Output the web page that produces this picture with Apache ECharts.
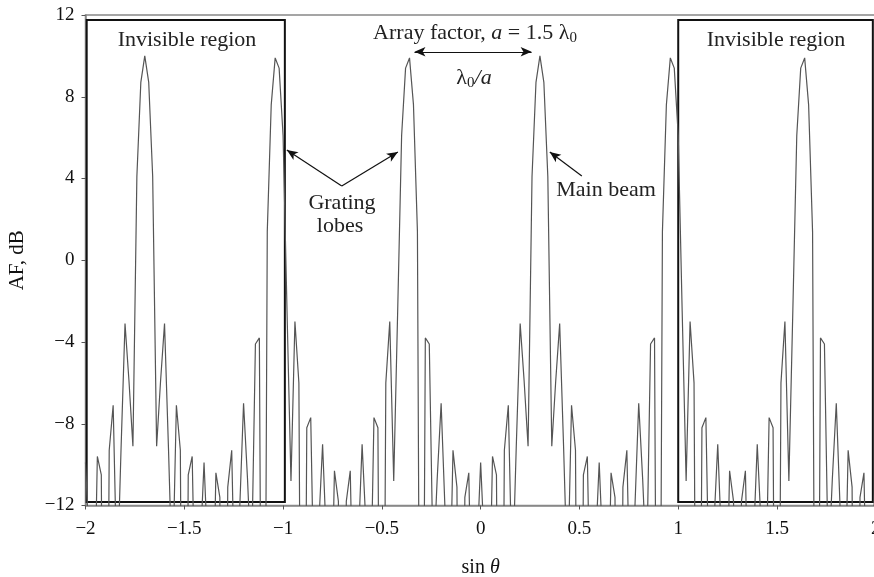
<!DOCTYPE html>
<html>
<head>
<meta charset="utf-8">
<script src="https://cdn.jsdelivr.net/npm/echarts@6/dist/echarts.min.js"></script>
<style>
html,body{margin:0;padding:0;background:#fff;}
#chart{width:874px;height:577px;}
</style>
</head>
<body>
<div id="chart"></div>
<script>
// sin(theta) sample positions
const sinTheta = [
-2, -1.98, -1.96, -1.94, -1.92, -1.9, -1.88, -1.86, -1.84, -1.82,
-1.8, -1.78, -1.76, -1.74, -1.72, -1.7, -1.68, -1.66, -1.64, -1.62,
-1.6, -1.58, -1.56, -1.54, -1.52, -1.5, -1.48, -1.46, -1.44, -1.42,
-1.4, -1.38, -1.36, -1.34, -1.32, -1.3, -1.28, -1.26, -1.24, -1.22,
-1.2, -1.18, -1.16, -1.14, -1.12, -1.1, -1.08, -1.06, -1.04, -1.02,
-1, -0.98, -0.96, -0.94, -0.92, -0.9, -0.88, -0.86, -0.84, -0.82,
-0.8, -0.78, -0.76, -0.74, -0.72, -0.7, -0.68, -0.66, -0.64, -0.62,
-0.6, -0.58, -0.56, -0.54, -0.52, -0.5, -0.48, -0.46, -0.44, -0.42,
-0.4, -0.38, -0.36, -0.34, -0.32, -0.3, -0.28, -0.26, -0.24, -0.22,
-0.2, -0.18, -0.16, -0.14, -0.12, -0.1, -0.08, -0.06, -0.04, -0.02,
0, 0.02, 0.04, 0.06, 0.08, 0.1, 0.12, 0.14, 0.16, 0.18,
0.2, 0.22, 0.24, 0.26, 0.28, 0.3, 0.32, 0.34, 0.36, 0.38,
0.4, 0.42, 0.44, 0.46, 0.48, 0.5, 0.52, 0.54, 0.56, 0.58,
0.6, 0.62, 0.64, 0.66, 0.68, 0.7, 0.72, 0.74, 0.76, 0.78,
0.8, 0.82, 0.84, 0.86, 0.88, 0.9, 0.92, 0.94, 0.96, 0.98,
1, 1.02, 1.04, 1.06, 1.08, 1.1, 1.12, 1.14, 1.16, 1.18,
1.2, 1.22, 1.24, 1.26, 1.28, 1.3, 1.32, 1.34, 1.36, 1.38,
1.4, 1.42, 1.44, 1.46, 1.48, 1.5, 1.52, 1.54, 1.56, 1.58,
1.6, 1.62, 1.64, 1.66, 1.68, 1.7, 1.72, 1.74, 1.76, 1.78,
1.8, 1.82, 1.84, 1.86, 1.88, 1.9, 1.92, 1.94, 1.96, 1.98,
2
];

// array factor in dB (deep nulls below -12 dB)
const afDb = [
-9.9, -14.3, -19.7, -9.6, -10.5, -40, -9.3, -7.1, -15.9, -9.2,
-3.1, -5.9, -9.1, 4.1, 8.7, 10, 8.7, 4.1, -9.1, -5.9,
-3.1, -9.2, -15.9, -7.1, -9.3, -40, -10.5, -9.6, -19.7, -14.3,
-9.9, -14.6, -20.2, -10.4, -11.6, -40, -11.1, -9.3, -18.6, -12.3,
-7.0, -10.7, -15.2, -4.1, -3.8, -40, 1.4, 7.6, 9.9, 9.4,
6.1, -2.5, -10.8, -3.0, -6.0, -40, -8.2, -7.7, -18.2, -13.1,
-9.0, -14.0, -19.8, -10.3, -11.8, -40, -11.8, -10.3, -19.8, -14.0,
-9.0, -13.1, -18.2, -7.7, -8.2, -40, -6.0, -3.0, -10.8, -2.5,
6.1, 9.4, 9.9, 7.6, 1.4, -40, -3.8, -4.1, -15.2, -10.7,
-7.0, -12.3, -18.6, -9.3, -11.1, -40, -11.6, -10.4, -20.2, -14.6,
-9.9, -14.3, -19.7, -9.6, -10.5, -40, -9.3, -7.1, -15.9, -9.2,
-3.1, -5.9, -9.1, 4.1, 8.7, 10, 8.7, 4.1, -9.1, -5.9,
-3.1, -9.2, -15.9, -7.1, -9.3, -40, -10.5, -9.6, -19.7, -14.3,
-9.9, -14.6, -20.2, -10.4, -11.6, -40, -11.1, -9.3, -18.6, -12.3,
-7.0, -10.7, -15.2, -4.1, -3.8, -40, 1.4, 7.6, 9.9, 9.4,
6.1, -2.5, -10.8, -3.0, -6.0, -40, -8.2, -7.7, -18.2, -13.1,
-9.0, -14.0, -19.8, -10.3, -11.8, -40, -11.8, -10.3, -19.8, -14.0,
-9.0, -13.1, -18.2, -7.7, -8.2, -40, -6.0, -3.0, -10.8, -2.5,
6.1, 9.4, 9.9, 7.6, 1.4, -40, -3.8, -4.1, -15.2, -10.7,
-7.0, -12.3, -18.6, -9.3, -11.1, -40, -11.6, -10.4, -20.2, -14.6,
-9.9
];

// invisible-region boxes [x0, x1] and vertical extent
const invisibleRegions = [[-1.994, -0.991], [1.0, 1.985]];
const boxTop = 11.75, boxBottom = -11.83;

// annotation arrows: [from, to, bothEnds]
const arrows = [
  [[-0.335, 10.2], [0.258, 10.2], true],
  [[-0.703, 3.63], [-0.981, 5.39], false],
  [[-0.703, 3.63], [-0.419, 5.30], false],
  [[0.512, 4.12], [0.350, 5.30], false]
];

const FONT = 'Liberation Serif';
const minus = v => (v < 0 ? '\u2212' + Math.abs(v) : String(v));
const ANN = 22;

const chart = echarts.init(document.getElementById('chart'), null, {renderer: 'canvas'});

const seriesData = sinTheta.map((x, i) => [x, afDb[i]]);

chart.setOption({
  animation: false,
  backgroundColor: '#fff',
  grid: {
    left: 85.5, right: -1.8, top: 15, bottom: 71.5,
    containLabel: false, outerBoundsMode: 'none',
    show: true, borderColor: '#888', borderWidth: 1.5, backgroundColor: 'transparent'
  },
  xAxis: {
    type: 'value', min: -2, max: 2, interval: 0.5,
    name: '{n|sin }{i|\u03b8}', nameLocation: 'middle', nameGap: 52,
    nameTextStyle: {
      rich: {
        n: {fontFamily: FONT, fontSize: 20, color: '#111'},
        i: {fontFamily: FONT, fontSize: 20, fontStyle: 'italic', color: '#111'}
      }
    },
    axisLine: {show: true, onZero: false, lineStyle: {color: '#888', width: 1.5}},
    axisTick: {show: true, inside: false, length: 4, lineStyle: {color: '#555'}},
    splitLine: {show: false},
    axisLabel: {fontFamily: FONT, fontSize: 19, color: '#111', margin: 14, formatter: minus}
  },
  yAxis: {
    type: 'value', min: -12, max: 12, interval: 4,
    name: 'AF, dB', nameLocation: 'middle', nameGap: 58, nameRotate: 90,
    nameTextStyle: {fontFamily: FONT, fontSize: 21, color: '#111'},
    axisLine: {show: true, onZero: false, lineStyle: {color: '#888', width: 1.5}},
    axisTick: {show: true, inside: false, length: 4, lineStyle: {color: '#555'}},
    splitLine: {show: false},
    axisLabel: {fontFamily: FONT, fontSize: 19, color: '#111', margin: 11, formatter: minus}
  },
  series: [{
    type: 'line',
    data: seriesData,
    showSymbol: false,
    clip: true,
    lineStyle: {color: '#555', width: 1.2},
    markArea: {
      silent: true,
      itemStyle: {color: 'rgba(0,0,0,0)', borderColor: '#111', borderWidth: 2},
      data: invisibleRegions.map(r => [{coord: [r[0], boxTop]}, {coord: [r[1], boxBottom]}])
    },
    markLine: {
      silent: true,
      animation: false,
      symbolSize: [7, 11],
      label: {show: false},
      lineStyle: {type: 'solid', color: '#111', width: 1.2},
      data: arrows.map(a => [
        {coord: a[0], symbol: a[2] ? 'arrow' : 'none'},
        {coord: a[1], symbol: 'arrow'}
      ])
    }
  }],
  graphic: [
    {type: 'text', x: 187, y: 40, style: {text: 'Invisible region', font: ANN + 'px "Liberation Serif"', fill: '#222', align: 'center', verticalAlign: 'middle'}},
    {type: 'text', x: 776, y: 40, style: {text: 'Invisible region', font: ANN + 'px "Liberation Serif"', fill: '#222', align: 'center', verticalAlign: 'middle'}},
    {type: 'text', x: 475, y: 33, style: {
      text: '{n|Array factor, }{i|a}{n| = 1.5 \u03bb}{s|0}',
      align: 'center', verticalAlign: 'middle',
      rich: {
        n: {fontFamily: FONT, fontSize: ANN, fill: '#222'},
        i: {fontFamily: FONT, fontSize: ANN, fontStyle: 'italic', fill: '#222'},
        s: {fontFamily: FONT, fontSize: 15, fill: '#222', padding: [10, 0, 0, 0]}
      }
    }},
    {type: 'text', x: 474, y: 78, style: {
      text: '{n|\u03bb}{s|0}{i|/a}',
      align: 'center', verticalAlign: 'middle',
      rich: {
        n: {fontFamily: FONT, fontSize: ANN, fill: '#222'},
        i: {fontFamily: FONT, fontSize: ANN, fontStyle: 'italic', fill: '#222'},
        s: {fontFamily: FONT, fontSize: 15, fill: '#222', padding: [10, 0, 0, 0]}
      }
    }},
    {type: 'text', x: 342, y: 203, style: {text: 'Grating', font: ANN + 'px "Liberation Serif"', fill: '#222', align: 'center', verticalAlign: 'middle'}},
    {type: 'text', x: 340, y: 226, style: {text: 'lobes', font: ANN + 'px "Liberation Serif"', fill: '#222', align: 'center', verticalAlign: 'middle'}},
    {type: 'text', x: 606, y: 190, style: {text: 'Main beam', font: ANN + 'px "Liberation Serif"', fill: '#222', align: 'center', verticalAlign: 'middle'}}
  ]
});
</script>
</body>
</html>
